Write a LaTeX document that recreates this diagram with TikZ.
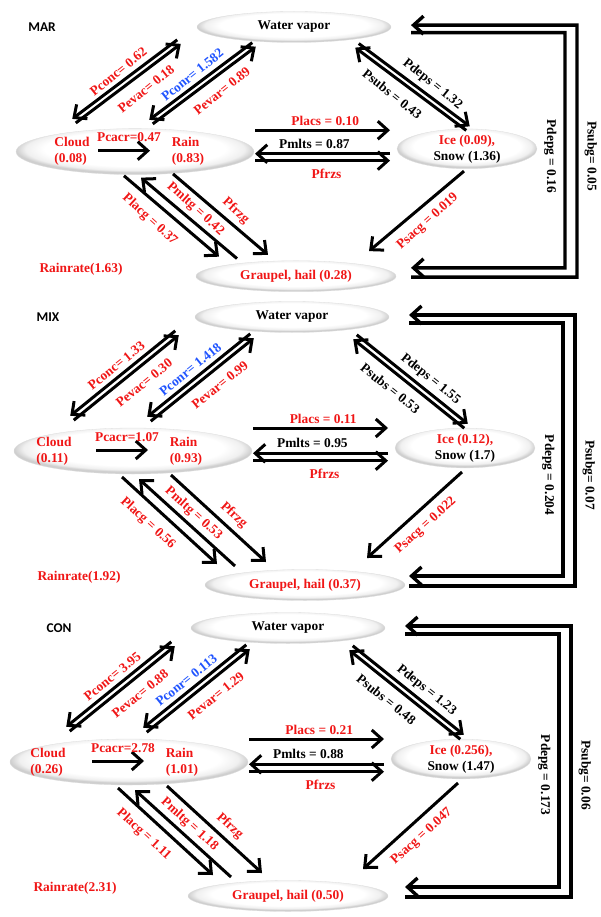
\documentclass[tikz,border=0pt]{standalone}
\usepackage{fontspec}
\setmainfont{Liberation Serif}
\newfontfamily\tagfont{Carlito}
\usetikzlibrary{arrows.meta,calc,shapes.geometric}

\definecolor{pred}{RGB}{240,22,22}
\definecolor{pblue}{RGB}{32,84,255}
\colorlet{rimgray}{gray!38}
\colorlet{softgray}{gray!12}
\pgfdeclareradialshading{cellglow}{\pgfpoint{0bp}{5bp}}{%
  color(0bp)=(white); color(19bp)=(white); color(23bp)=(softgray);
  color(25bp)=(rimgray); color(50bp)=(rimgray)}

\tikzset{
  cell/.style={ellipse, shading=cellglow, draw=gray!25, line width=0.3pt, inner sep=0pt},
  flow/.style={line width=3pt, -{Straight Barb[length=10pt,width=18pt]}},
  bracket/.style={line width=3.4pt, -{Straight Barb[length=10pt,width=18pt]}},
  lane/.style={to path={($(\tikztostart)!#1!-90:(\tikztotarget)$) -- ($(\tikztotarget)!#1!90:(\tikztostart)$) \tikztonodes}},
  lane/.default=2.8pt,
}

\begin{document}
\begin{tikzpicture}[x=1pt, y=-1pt, font=\fontsize{13.4}{16}\selectfont\bfseries,
  every node/.append style={inner sep=2pt}]
\useasboundingbox (0,0) rectangle (601,917);
%\draw[help lines,step=50] (0,0) grid (601,917);

\foreach \pname/\ox/\oy/\sy/\tagx/\cldx/\grx/\bly/\vcl/\vrn/\vice/\vsnw/\vgr/\vrr/\pconc/\pevac/\pconr/\pevar/\pdeps/\psubs/\placs/\pmlts/\pcacr/\placg/\pmltg/\psacg/\pdepg/\psubg in {%
MAR/294/27/0.93/-252/-222/2/139/0.08/0.83/0.09/1.36/0.28/1.63/0.62/0.18/1.582/0.89/1.32/0.43/0.10/0.87/0.47/0.37/0.42/0.019/0.16/0.05,%
MIX/292/317/1/-244/-238/13/158/0.11/0.93/0.12/1.7/0.37/1.92/1.33/0.30/1.418/0.99/1.55/0.53/0.11/0.95/1.07/0.56/0.53/0.022/0.204/0.07,%
CON/288/628/1/-229/-240/0/147/0.26/1.01/0.256/1.47/0.50/2.31/3.95/0.88/0.113/1.29/1.23/0.48/0.21/0.88/2.78/1.11/1.18/0.047/0.173/0.06%
}{
\begin{scope}[shift={(\ox,\oy)}, yscale=\sy]
\node[font=\tagfont\fontsize{13.4}{16}\selectfont\bfseries] (tag) at (\tagx,0) {\pname};

% hydrometeor cells
\node[cell, minimum width=194pt, minimum height=31pt] (vapor) at (0,0) {Water vapor};
\node[cell, minimum width=238pt, minimum height=46pt] (liquid) at (-159,134) {};
\node[text=pred, align=left] (cloud) at (\cldx,134) {Cloud\\(\vcl)};
\node[text=pred, align=left] (rain) at (-106,134) {Rain\\(\vrn)};
\node[cell, minimum width=140pt, minimum height=32pt, align=center] (ice) at (173,131) {\textcolor{pred}{Ice (\vice),}\\Snow (\vsnw)};
\node[cell, minimum width=200pt, minimum height=31pt, text=pred] (graupel) at (\grx,268) {Graupel, hail (\vgr)};
\node[text=pred] (rainrate) at (-213,260) {Rainrate(\vrr)};

% vapor <-> cloud, rain, ice
\coordinate (vc1) at (-220,101); \coordinate (vc2) at (-115,16);
\draw[flow] (vc2) to[lane] node[pos=0.5, sloped, above=2pt, text=pred] {Pconc= \pconc} (vc1);
\draw[flow] (vc1) to[lane] node[pos=0.58, sloped, below=7pt, text=pred] {Pevac= \pevac} (vc2);
\coordinate (rv1) at (-143,102); \coordinate (rv2) at (-40,19);
\draw[flow] (rv2) to[lane] node[pos=0.52, sloped, above=2pt, text=pblue] {Pconr= \pconr} (rv1);
\draw[flow] (rv1) to[lane] node[pos=0.58, sloped, below=7pt, text=pred] {Pevar= \pevar} (rv2);
\coordinate (vi1) at (63,20); \coordinate (vi2) at (174,109);
\draw[flow] (vi1) to[lane=-2.8pt] node[pos=0.6, sloped, above=2pt] {Pdeps = \pdeps} (vi2);
\draw[flow] (vi2) to[lane=-2.8pt] node[pos=0.58, sloped, below=7pt] {Psubs = \psubs} (vi1);

% rain <-> ice
\coordinate (ri1) at (-39,111); \coordinate (ri2) at (96,111);
\draw[flow] (ri1) -- node[pos=0.52, above=1pt, text=pred] {Placs = \placs} (ri2);
\coordinate (mr1) at (-39,140); \coordinate (mr2) at (96,140);
\draw[flow] (mr2) to[lane=3.7pt] node[pos=0.56, above=2pt] {Pmlts = \pmlts} (mr1);
\draw[flow] (mr1) to[lane=3.7pt] node[pos=0.53, below=5pt, text=pred] {Pfrzs} (mr2);

% cloud -> rain
\coordinate (cr1) at (-196,133); \coordinate (cr2) at (-144,133);
\draw[flow] (cr1) -- node[midway, above=5pt, xshift=5pt, text=pred] {Pcacr=\pcacr} (cr2);

% rain, cloud, ice <-> graupel
\coordinate (lg1) at (-170,160); \coordinate (lg2) at (-75,247);
\draw[flow] (lg1) -- node[pos=0.39, sloped, below=7pt, text=pred] {Placg = \placg} (lg2);
\coordinate (mg1) at (-57,249); \coordinate (mg2) at (-153,162);
\draw[flow] (mg1) -- node[pos=0.51, sloped, above=1.5pt, text=pred] {Pmltg = \pmltg} (mg2);
\coordinate (fg1) at (-121,158); \coordinate (fg2) at (-26,245);
\draw[flow] (fg1) -- node[pos=0.57, sloped, above=3pt, text=pred] {Pfrzg} (fg2);
\coordinate (sg1) at (170,155); \coordinate (sg2) at (75,241);
\draw[flow] (sg1) -- node[pos=0.49, sloped, below=6pt, text=pred] {Psacg = \psacg} (sg2);

% vapor <-> graupel
\coordinate (dg1) at (117,6); \coordinate (dg2) at (117,259);
\draw[bracket] (dg1) -- ++(154,0) -- node[pos={(\bly-6)/253}, rotate=-90, anchor=north, inner sep=7pt] {Pdepg = \pdepg} ++(0,253) -- (dg2);
\coordinate (sb1) at (117,269); \coordinate (sb2) at (117,-2);
\draw[bracket] (sb1) -- ++(166,0) -- node[pos={(269-\bly)/271}, rotate=-90, anchor=south, inner sep=6pt] {Psubg= \psubg} ++(0,-271) -- (sb2);
\end{scope}
}

\end{tikzpicture}
\end{document}
